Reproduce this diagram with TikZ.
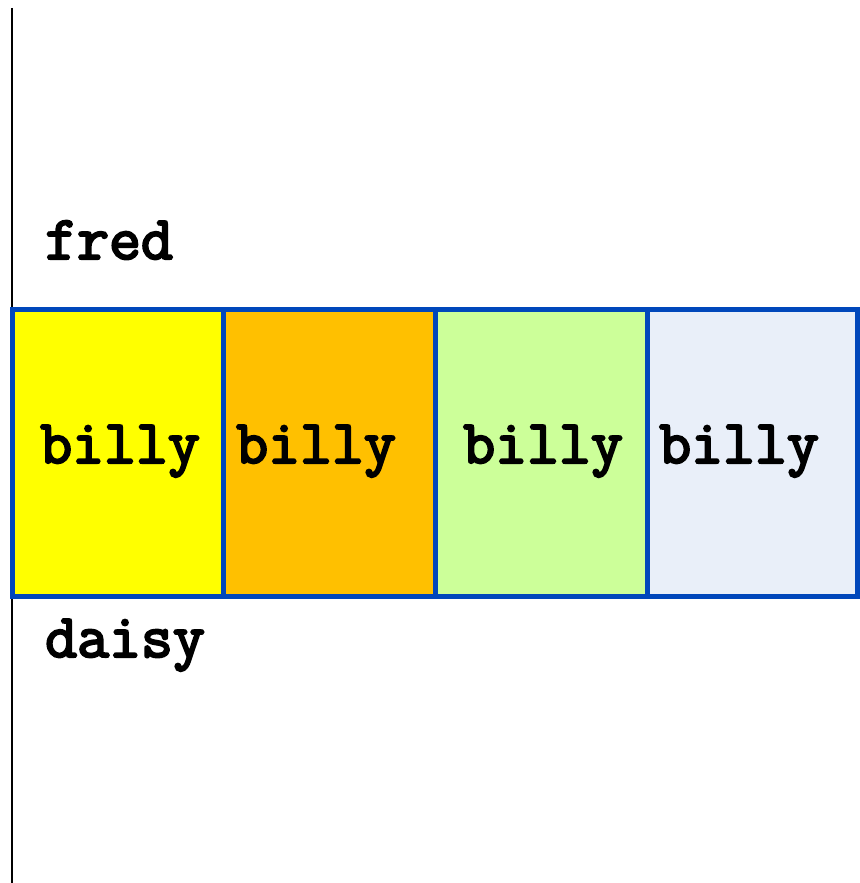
\documentclass[tikz,border=0pt]{standalone}
\usepackage{fontspec}
\newfontfamily\billyfont[FakeBold=3.5]{Latin Modern Mono}
\definecolor{boxblue}{RGB}{0,71,187}
\definecolor{cyel}{RGB}{255,255,0}
\definecolor{corg}{RGB}{255,192,0}
\definecolor{cgrn}{RGB}{204,255,153}
\definecolor{cblu}{RGB}{233,239,249}
\tikzset{
  cell/.style={draw=boxblue, line width=5pt, minimum width=#1, minimum height=287pt, inner sep=0pt, outer sep=0pt, anchor=north west},
  lbl/.style={font=\billyfont\fontsize{62}{66}\selectfont, inner sep=0pt, anchor=base west}
}
\begin{document}
\begin{tikzpicture}[x=1pt,y=-1pt]
\useasboundingbox (0,0) rectangle (859,883);
\coordinate (ltop) at (12,8);
\coordinate (lbot) at (12,883);
\draw[line width=2pt] (ltop) -- (lbot);
\node[cell=211pt, fill=cyel] (c1) at (12,309.5) {};
\node[cell=212pt, fill=corg] (c2) at (223,309.5) {};
\node[cell=212pt, fill=cgrn] (c3) at (435,309.5) {};
\node[cell=210pt, fill=cblu] (c4) at (647,309.5) {};
\node[lbl] (b1) at (40,463) {billy};
\node[lbl] (b2) at (236,463) {billy};
\node[lbl] (b3) at (463,463) {billy};
\node[lbl] (b4) at (659,463) {billy};
\node[lbl] (fred) at (45,259) {fred};
\node[lbl] (daisy) at (45,657) {daisy};
\end{tikzpicture}
\end{document}
